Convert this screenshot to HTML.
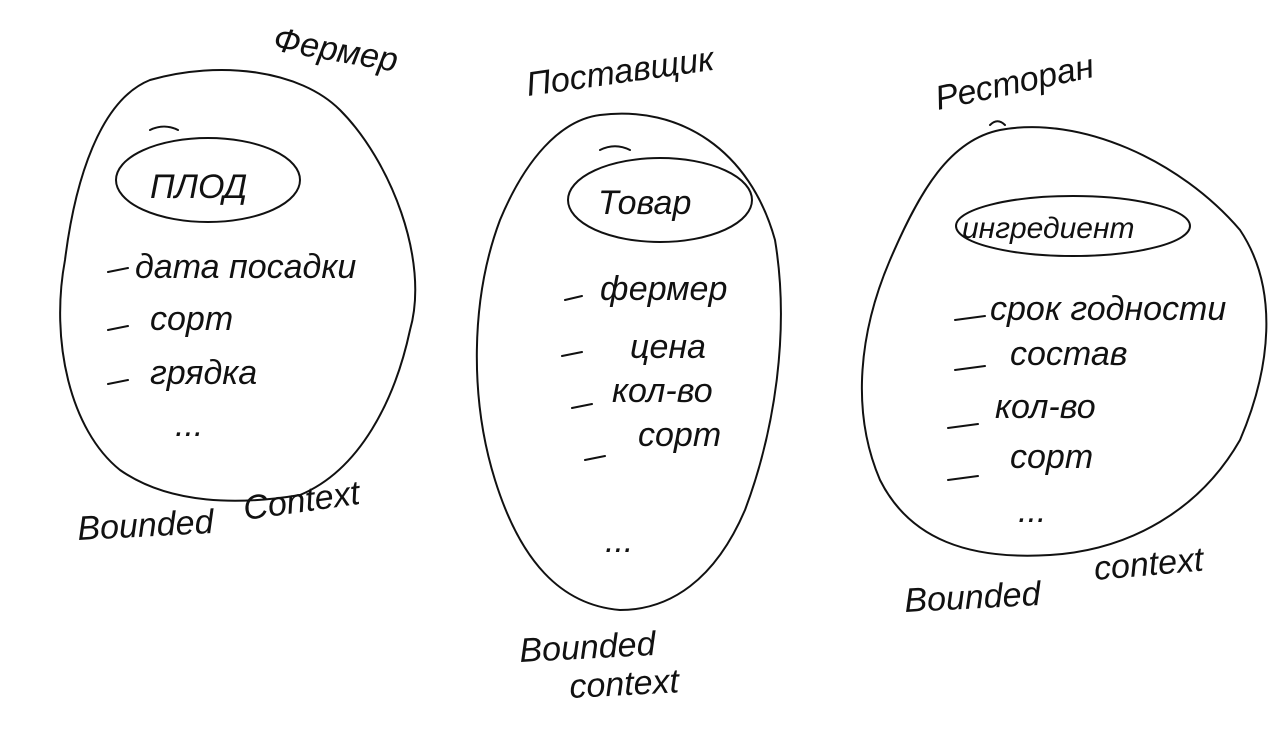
<!DOCTYPE html>
<html><head><meta charset="utf-8"><style>
html,body{margin:0;padding:0;background:#fff;}
svg{display:block}
text{font-family:"Liberation Sans","DejaVu Sans",sans-serif;fill:#111;font-style:italic;}
</style></head><body>
<svg width="1280" height="736" viewBox="0 0 1280 736" xmlns="http://www.w3.org/2000/svg">
<g fill="none" stroke="#111" stroke-width="2" stroke-linecap="round">
<!-- blob 1 -->
<path d="M150,80 C220,60 300,70 340,110 C390,160 430,260 410,330 C395,400 360,470 300,495 C240,505 170,505 120,470 C70,430 50,340 65,260 C75,180 100,100 150,80 Z"/>
<ellipse cx="208" cy="180" rx="92" ry="42"/>
<path d="M150,130 C160,125 170,126 178,130"/>
<!-- blob 2 -->
<path d="M600,115 C680,105 750,150 775,240 C790,330 775,430 745,510 C715,580 670,610 620,610 C560,605 520,560 495,480 C470,400 470,300 500,220 C525,160 560,120 600,115 Z"/>
<ellipse cx="660" cy="200" rx="92" ry="42"/>
<path d="M600,150 C610,145 620,145 630,150"/>
<!-- blob 3 -->
<path d="M1000,130 C1080,115 1180,160 1240,230 C1280,290 1270,370 1240,440 C1200,510 1130,550 1050,555 C970,560 910,540 880,480 C850,410 860,330 890,260 C920,190 950,140 1000,130 Z"/>
<ellipse cx="1073" cy="226" rx="117" ry="30"/>
<path d="M990,125 C995,120 1000,120 1005,125"/>
<!-- dashes -->
<path d="M108,272 L128,268 M108,330 L128,326 M108,384 L128,380"/>
<path d="M565,300 L582,296 M562,356 L582,352 M572,408 L592,404 M585,460 L605,456"/>
<path d="M955,320 L985,316 M955,370 L985,366 M948,428 L978,424 M948,480 L978,476"/>
</g>
<g font-size="34">
<text x="272" y="50" transform="rotate(10 272 50)">Фермер</text>
<text x="528" y="96" transform="rotate(-8 528 96)">Поставщик</text>
<text x="938" y="110" transform="rotate(-12 938 110)">Ресторан</text>
<text x="150" y="198" font-style="normal">ПЛОД</text>
<text x="598" y="214" font-style="normal">Товар</text>
<text x="962" y="238" font-size="30" font-style="normal">ингредиент</text>
<text x="135" y="278">дата посадки</text>
<text x="150" y="330">сорт</text>
<text x="150" y="384">грядка</text>
<text x="175" y="436">...</text>
<text x="600" y="300">фермер</text>
<text x="630" y="358">цена</text>
<text x="612" y="402">кол-во</text>
<text x="638" y="446">сорт</text>
<text x="605" y="552">...</text>
<text x="990" y="320">срок годности</text>
<text x="1010" y="365">состав</text>
<text x="995" y="418">кол-во</text>
<text x="1010" y="468">сорт</text>
<text x="1018" y="522">...</text>
<text x="78" y="540" transform="rotate(-3 78 540)">Bounded</text>
<text x="245" y="520" transform="rotate(-8 245 520)">Context</text>
<text x="520" y="662" transform="rotate(-3 520 662)">Bounded</text>
<text x="570" y="698" transform="rotate(-3 570 698)">context</text>
<text x="905" y="612" transform="rotate(-3 905 612)">Bounded</text>
<text x="1095" y="580" transform="rotate(-5 1095 580)">context</text>
</g>
</svg>
</body></html>
